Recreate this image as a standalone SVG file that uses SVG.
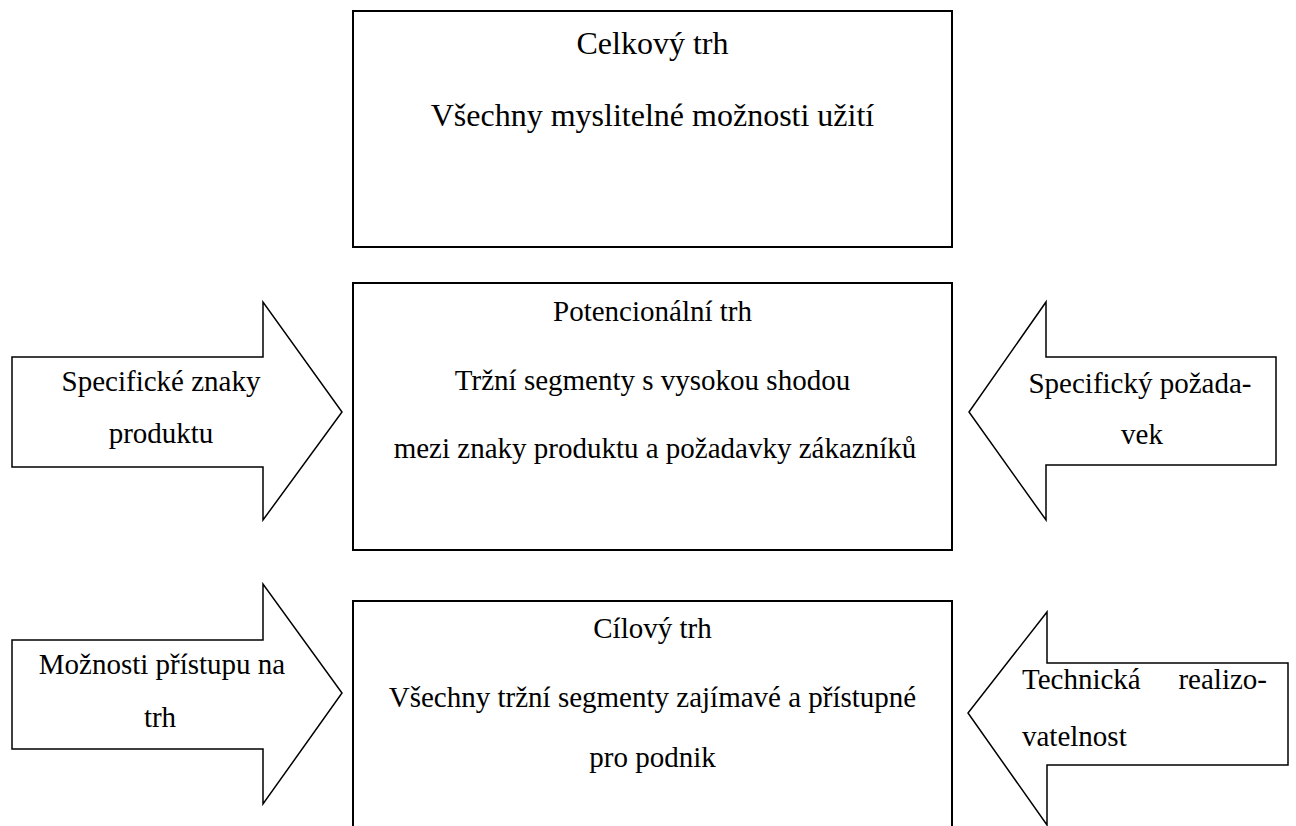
<svg xmlns="http://www.w3.org/2000/svg" width="1296" height="826" viewBox="0 0 1296 826">
<style>
.box{fill:#fff;stroke:#000;stroke-width:2}
.arr{fill:#fff;stroke:#000;stroke-width:1.5;stroke-linejoin:miter}
text{font-family:"Liberation Serif","Times New Roman",serif;fill:#000}
.t32{font-size:32px}
.t29{font-size:29px}
.c{text-anchor:middle}
</style>
<rect width="1296" height="826" fill="#fff"/>
<g id="connectors">
<g id="arrow-left-1">
<polygon class="arr" points="12,357 263,357 263,302 342,412 263,520 263,467 12,467"/>
<text class="t29 c" x="161" y="391">Specifické znaky</text>
<text class="t29 c" x="161" y="443">produktu</text>
</g>
<g id="arrow-right-1">
<polygon class="arr" points="1276,357 1046,357 1046,302 969,412 1046,520 1046,465 1276,465"/>
<text class="t29 c" x="1140" y="393">Specifický požada-</text>
<text class="t29 c" x="1142" y="444">vek</text>
</g>
<g id="arrow-left-2">
<polygon class="arr" points="12,640 263,640 263,584 342,693 263,804 263,749 12,749"/>
<text class="t29 c" x="162" y="674">Možnosti přístupu na</text>
<text class="t29 c" x="160" y="727">trh</text>
</g>
<g id="arrow-right-2">
<polygon class="arr" points="1288,663 1047,663 1047,612 968,713 1047,825 1047,765 1288,765"/>
<text class="t29" x="1022" y="689">Technická</text>
<text class="t29" x="1267" y="689" text-anchor="end">realizo-</text>
<text class="t29" x="1022" y="746">vatelnost</text>
</g>
</g>
<g id="node-celkovy">
<rect class="box" x="353" y="11" width="599" height="236"/>
<text class="t32 c" x="652.5" y="54">Celkový trh</text>
<text class="t32 c" x="652.5" y="126">Všechny myslitelné možnosti užití</text>
</g>
<g id="node-potencionalni">
<rect class="box" x="353" y="283" width="599" height="267"/>
<text class="t29 c" x="652.5" y="321">Potencionální trh</text>
<text class="t29 c" x="652.5" y="390">Tržní segmenty s vysokou shodou</text>
<text class="t29 c" x="655" y="458" font-size="29.5">mezi znaky produktu a požadavky zákazníků</text>
</g>
<g id="node-cilovy">
<rect class="box" x="353" y="601" width="599" height="240"/>
<text class="t29 c" x="652.5" y="638">Cílový trh</text>
<text class="t29 c" x="652.5" y="707">Všechny tržní segmenty zajímavé a přístupné</text>
<text class="t29 c" x="652.5" y="767">pro podnik</text>
</g>
</svg>
